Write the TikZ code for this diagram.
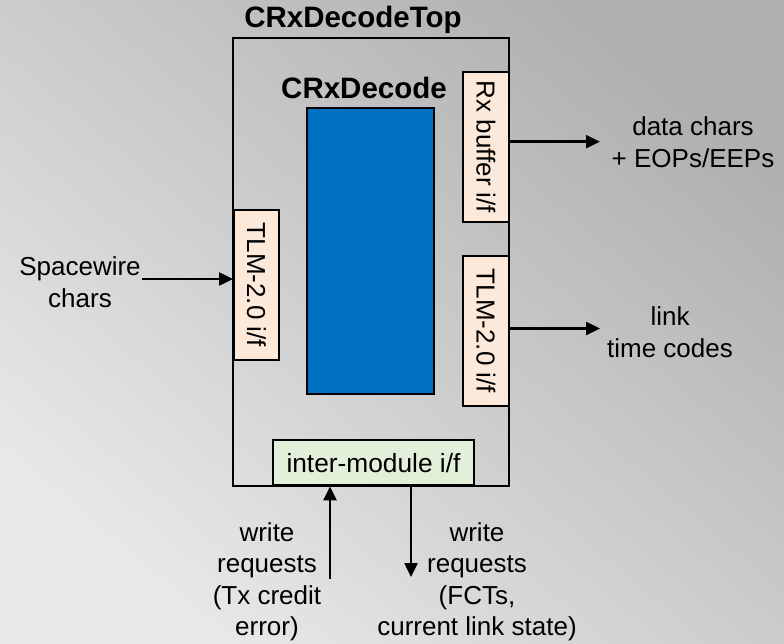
\documentclass[tikz,border=0pt]{standalone}
\usepackage{fontspec}
\setmainfont{Liberation Sans}
\usetikzlibrary{arrows.meta}
\definecolor{bgdark}{RGB}{176,176,176}
\definecolor{bglight}{RGB}{232,232,232}
\definecolor{coreblue}{RGB}{0,112,192}
\definecolor{ifpeach}{RGB}{253,233,217}
\definecolor{ifgreen}{RGB}{226,240,217}
\tikzset{
  lbl/.style={align=center, inner sep=0pt, font=\fontsize{26}{31.5}\selectfont},
  ttl/.style={inner sep=0pt, font=\bfseries\fontsize{29.5}{34}\selectfont},
  ifbox/.style={draw=black, line width=2pt, fill=ifpeach, inner sep=0pt},
  vtext/.style={rotate=-90, inner sep=0pt, font=\fontsize{26}{31.5}\selectfont},
  flow/.style={line width=2.5pt, -{Triangle[length=14pt,width=13pt]}},
}
\begin{document}
\begin{tikzpicture}[x=1pt, y=-1pt]
  % page and background
  \useasboundingbox (0,0) rectangle (784,644);
  \shade[top color=bgdark, bottom color=bglight, shading angle=-40] (0,0) rectangle (784,644);

  % top-level module
  \node[draw=black, line width=2pt, minimum width=276pt, minimum height=447.5pt, inner sep=0pt] (top) at (371,261.75) {};
  \node[ttl] (toptitle) at (353,20) {CRxDecodeTop};

  % decoder core
  \node[ttl] (coretitle) at (364,88) {CRxDecode};
  \node[draw=black, line width=2pt, fill=coreblue, minimum width=127pt, minimum height=286.5pt, inner sep=0pt] (core) at (370.5,250.8) {};

  % interfaces
  \node[ifbox, minimum width=46pt, minimum height=149.5pt] (rxbuf) at (486,147) {};
  \node[vtext] (rxbuftext) at (rxbuf) {Rx buffer i/f};
  \node[ifbox, minimum width=45pt, minimum height=150pt] (tlmL) at (256.5,285) {};
  \node[vtext] (tlmLtext) at (tlmL) {TLM-2.0 i/f};
  \node[ifbox, minimum width=46pt, minimum height=150pt] (tlmR) at (486,331) {};
  \node[vtext] (tlmRtext) at (tlmR) {TLM-2.0 i/f};
  \node[ifbox, fill=ifgreen, minimum width=201pt, minimum height=45.5pt, font=\fontsize{26.3}{32}\selectfont] (inter) at (373.5,462.7) {inter-module i/f};

  % external labels
  \node[lbl] (swlbl) at (80,282) {Spacewire\\chars};
  \node[lbl] (datalbl) at (693,142) {data chars\\+ EOPs/EEPs};
  \node[lbl] (linklbl) at (670,332) {link\\time codes};
  \node[lbl] (txlbl) at (267,582) {write\\requests\\(Tx credit\\error)};
  \node[lbl] (fctlbl) at (477,582) {write\\requests\\(FCTs,\\current link state)};

  % connector end points
  \coordinate (swin) at (142,279);
  \coordinate (rxout) at (600,141.7);
  \coordinate (tcout) at (600,328.5);
  \coordinate (txin) at (330,579);
  \coordinate (fctout) at (411,577);

  % connectors
  \draw[flow] (swin) -- (swin -| tlmL.west);
  \draw[flow] (rxout -| rxbuf.east) -- (rxout);
  \draw[flow] (tcout -| tlmR.east) -- (tcout);
  \draw[flow] (txin) -- (txin |- inter.south);
  \draw[flow] (fctout |- inter.south) -- (fctout);
\end{tikzpicture}
\end{document}
